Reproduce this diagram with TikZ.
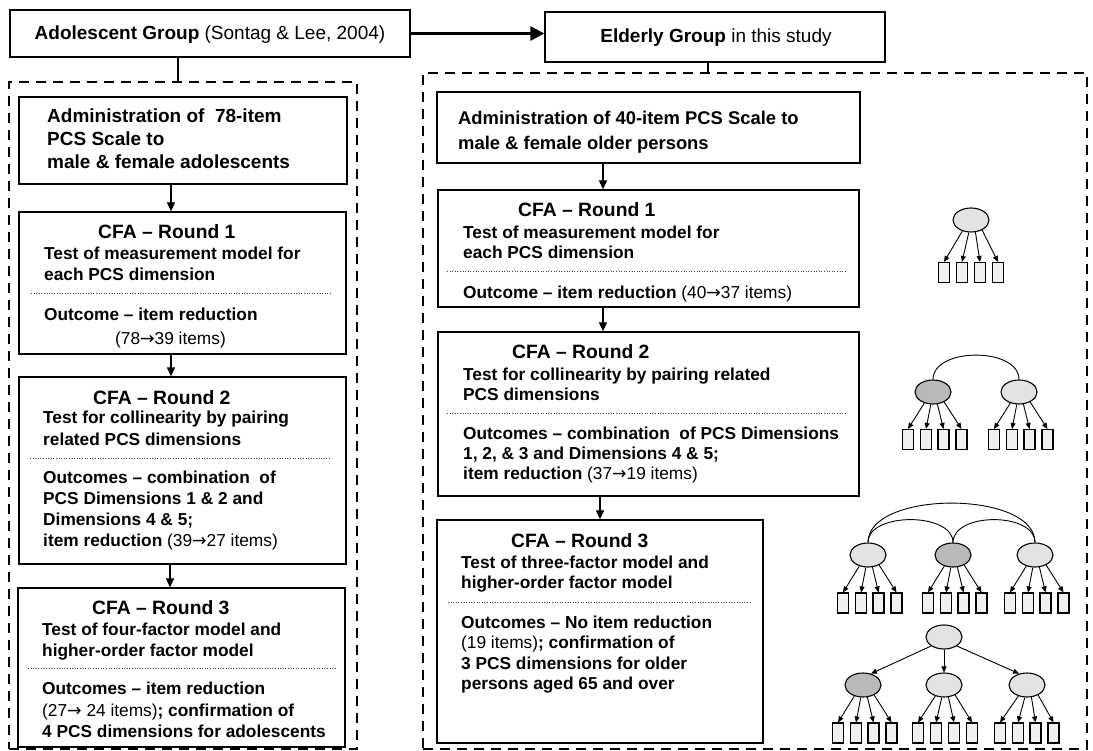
\documentclass[tikz,border=0pt]{standalone}
\usepackage{fontspec}
\setmainfont{Liberation Sans}
\newfontfamily\djv{DejaVu Sans}
\newcommand\rarr{{\djv →}}
\usetikzlibrary{arrows.meta,shapes.geometric,fit}
\newcommand\factorgrp[6]{%
  \node[#4] (#1) at (#2,#3) {};
  \foreach \o [count=\i] in {#6} {
    \node[itembox] (#1i\i) at ({#2+\o},#5) {};
  }
  \foreach \i/\a in {1/232,2/260,3/290,4/318} {\draw[loadarr] (#1.\a) -- (#1i\i.north);}
}
\begin{document}
\begin{tikzpicture}[x=1pt,y=-1pt,
  box/.style={draw, line width=1.3pt, inner sep=0pt, fill=white},
  dframe/.style={draw, line width=2.2pt, dash pattern=on 10pt off 7pt, inner sep=0pt},
  tx/.style={anchor=base west, inner sep=0pt, font=\fontsize{17.3}{21}\selectfont\bfseries},
  txa/.style={anchor=base west, inner sep=0pt, font=\fontsize{19}{22}\selectfont\bfseries},
  txb/.style={anchor=base west, inner sep=0pt, font=\fontsize{18.4}{22}\selectfont\bfseries},
  ttl/.style={anchor=base west, inner sep=0pt, font=\fontsize{19.3}{22}\selectfont\bfseries},
  hd/.style={anchor=base, inner sep=0pt, font=\fontsize{19}{22}\selectfont},
  flow/.style={line width=1.2pt, -{Triangle[length=9pt,width=8pt]}},
  sepline/.style={line width=0.6pt, dotted, black!75},
  fac/.style={ellipse, draw, line width=1.1pt, minimum width=36pt, minimum height=24pt, inner sep=0pt, fill=gray!22},
  facd/.style={fac, fill=gray!55},
  itembox/.style={rectangle, draw, line width=1.1pt, minimum width=11pt, minimum height=20pt, inner sep=0pt, fill=gray!12},
  loadarr/.style={line width=0.9pt, -{Triangle[length=6pt,width=5pt]}},
  covarc/.style={line width=0.9pt},
]
\fill[white] (0,0) rectangle (1093,751);
\useasboundingbox (0,0) rectangle (1093,751);

% dashed frames
\node[dframe, fit={(9,82) (357,749)}] (lfr) {};
\node[dframe, fit={(423,73) (1087,749)}] (rfr) {};

% header
\node[box, fit={(10,10) (410,57)}] (adol) {};
\node[hd] (adolt) at (210,40) {\textbf{Adolescent Group} (Sontag \& Lee, 2004)};
\node[box, fit={(545,12) (885,62)}] (eld) {};
\node[hd] (eldt) at (716,43) {\textbf{Elderly Group} in this study};
\draw[line width=3pt, -{Triangle[length=14pt,width=14pt]}] (adol.east) -- (adol.east -| eld.west);
\coordinate (lt) at (178,0);
\coordinate (rt) at (708,0);
\draw[line width=1.4pt] (adol.south -| lt) -- (lfr.north -| lt);
\draw[line width=1.4pt] (eld.south -| rt) -- (rfr.north -| rt);

% left column
\node[box, fit={(19,97) (347,184)}] (la) {};
\node[txa] (la1) at (47,123) {Administration of\ \ 78-item};
\node[txa] (la2) at (47,146) {PCS Scale to};
\node[txa] (la3) at (47,169) {male \& female adolescents};

\node[box, fit={(19,212) (346,354)}] (l1) {};
\node[ttl] (l1t) at (98,239) {CFA – Round 1};
\node[tx] (l1a) at (44,260) {Test of measurement model for};
\node[tx] (l1b) at (44,281) {each PCS dimension};
\draw[sepline] (31,293) -- (332,293);
\node[tx] (l1c) at (44,321) {Outcome – item reduction};
\node[tx] (l1d) at (115,345) {\mdseries(78\rarr39 items)};

\node[box, fit={(19,377) (346,564)}] (l2) {};
\node[ttl] (l2t) at (93,404) {CFA – Round 2};
\node[tx] (l2a) at (43,424) {Test for collinearity by pairing};
\node[tx] (l2b) at (43,445) {related PCS dimensions};
\draw[sepline] (30,458) -- (330,458);
\node[tx] (l2c) at (43,483) {Outcomes – combination\ \ of};
\node[tx] (l2d) at (43,504) {PCS Dimensions 1 \& 2 and};
\node[tx] (l2e) at (43,525) {Dimensions 4 \& 5;};
\node[tx] (l2f) at (43,546) {item reduction {\mdseries(39\rarr27 items)}};

\node[box, fit={(18,588) (345,747)}] (l3) {};
\node[ttl] (l3t) at (92,614) {CFA – Round 3};
\node[tx] (l3a) at (42,635) {Test of four-factor model and};
\node[tx] (l3b) at (42,656) {higher-order factor model};
\draw[sepline] (28,668) -- (335,668);
\node[tx] (l3c) at (42,694) {Outcomes – item reduction};
\node[tx] (l3d) at (42,716) {{\mdseries(27\rarr\ 24 items)}; confirmation of};
\node[tx] (l3e) at (42,737) {4 PCS dimensions for adolescents};

\coordinate (lxa) at (171,0);
\coordinate (lxb) at (170,0);
\draw[flow] (la.south -| lxa) -- (l1.north -| lxa);
\draw[flow] (l1.south -| lxa) -- (l2.north -| lxa);
\draw[flow] (l2.south -| lxb) -- (l3.north -| lxb);

% right column
\node[box, fit={(437,92) (860,163)}] (ra) {};
\node[txb] (ra1) at (458,125) {Administration of 40-item PCS Scale to};
\node[txb] (ra2) at (458,150) {male \& female older persons};

\node[box, fit={(438,190) (859,307)}] (r1) {};
\node[ttl] (r1t) at (518,217) {CFA – Round 1};
\node[tx] (r1a) at (463,239) {Test of measurement model for};
\node[tx] (r1b) at (463,259) {each PCS dimension};
\draw[sepline] (447,271) -- (847,271);
\node[tx] (r1c) at (463,299) {Outcome – item reduction {\mdseries(40\rarr37 items)}};

\node[box, fit={(438,332) (859,496)}] (r2) {};
\node[ttl] (r2t) at (512,359) {CFA – Round 2};
\node[tx] (r2a) at (463,381) {Test for collinearity by pairing related};
\node[tx] (r2b) at (463,401) {PCS dimensions};
\draw[sepline] (447,413) -- (847,413);
\node[tx] (r2c) at (463,439) {Outcomes – combination\ \ of PCS Dimensions};
\node[tx] (r2d) at (463,459) {1, 2, \& 3 and Dimensions 4 \& 5;};
\node[tx] (r2e) at (463,479) {item reduction {\mdseries(37\rarr19 items)}};

\node[box, fit={(437,520) (763,743)}] (r3) {};
\node[ttl] (r3t) at (511,547) {CFA – Round 3};
\node[tx] (r3a) at (461,568) {Test of three-factor model and};
\node[tx] (r3b) at (461,588) {higher-order factor model};
\draw[sepline] (448,602) -- (750,602);
\node[tx] (r3c) at (461,628) {Outcomes – No item reduction};
\node[tx] (r3d) at (461,648) {{\mdseries(19 items)}; confirmation of};
\node[tx] (r3e) at (461,669) {3 PCS dimensions for older};
\node[tx] (r3f) at (461,689) {persons aged 65 and over};

\coordinate (rxa) at (603,0);
\coordinate (rxb) at (600,0);
\draw[flow] (ra.south -| rxa) -- (r1.north -| rxa);
\draw[flow] (r1.south -| rxa) -- (r2.north -| rxa);
\draw[flow] (r2.south -| rxb) -- (r3.north -| rxb);

% model 1
\factorgrp{ma}{971}{220}{fac}{272.5}{-27,-9,9,27}
% model 2
\factorgrp{mb}{933}{392}{facd}{439.5}{-25,-7,10.5,28.5}
\factorgrp{mc}{1019}{392}{fac}{439.5}{-25,-7,10.5,28.5}
\draw[covarc] (mb.north) .. controls (933,347) and (1019,347) .. (mc.north);
% model 3
\factorgrp{mda}{868}{555}{fac}{603}{-25,-7,10.5,28.5}
\factorgrp{mdb}{953}{555}{facd}{603}{-25,-7,10.5,28.5}
\factorgrp{mdc}{1035}{555}{fac}{603}{-25,-7,10.5,28.5}
\draw[covarc] (mda.north) .. controls (868,490) and (1035,490) .. (mdc.north);
\draw[covarc] (mda.north) .. controls (868,512) and (953,512) .. (mdb.north);
\draw[covarc] (mdb.north) .. controls (953,512) and (1035,512) .. (mdc.north);
% model 4
\node[fac] (met) at (944,637) {};
\factorgrp{mea}{863}{685}{facd}{733}{-25,-7,10.5,28.5}
\factorgrp{meb}{944}{685}{fac}{733}{-26,-8,10,28}
\factorgrp{mec}{1027}{685}{fac}{733}{-27,-9,8.5,26.5}
\draw[loadarr] (met.215) -- (mea.55);
\draw[loadarr] (met.south) -- (meb.north);
\draw[loadarr] (met.325) -- (mec.125);
\end{tikzpicture}
\end{document}
